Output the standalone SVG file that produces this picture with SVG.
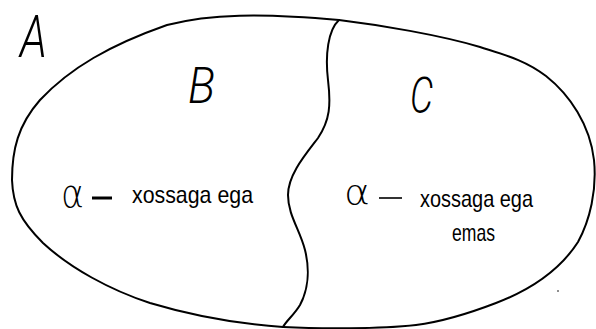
<svg xmlns="http://www.w3.org/2000/svg" width="596" height="329" viewBox="0 0 596 329">
<style>
.ln{fill:none;stroke:#000;stroke-width:2;stroke-linecap:round;stroke-linejoin:round}
.hand{font-family:Roboto,"Liberation Sans",sans-serif;font-weight:300;font-style:italic;fill:#000}
.lbl{font-family:"Liberation Sans",Arial,sans-serif;font-size:24px;fill:#000}
.al{font-family:"DejaVu Sans","Noto Sans",sans-serif;font-weight:200;fill:#000}
.dash{stroke:#000;stroke-linecap:butt}
</style>
<rect width="596" height="329" fill="#fff"/>
<g id="set-A">
<path class="ln" d="M339,20 C380,25 440,35 480,47 C505,55 525,60 546,76 C570,95 590,125 594,160 C597,190 590,220 578,242 C560,270 530,290 496,303 C470,313 440,322 416,325 C380,329 320,329 283,327 C240,324 190,315 150,303 C110,290 70,268 43,243 C20,220 13,205 12,180 C12,150 18,125 40,100 C70,68 110,45 167,25 C210,14 260,13 339,20 Z"/>
<text class="hand" x="20" y="57" font-size="59" textLength="27" lengthAdjust="spacingAndGlyphs">A</text>
</g>
<g id="divider">
<path class="ln" d="M339,20 C328,30 325,55 328,80 C331,105 330,120 318,138 C305,155 288,175 288,195 C288,215 300,230 305,250 C310,270 308,290 300,305 C294,315 287,320 283,327"/>
</g>
<g id="set-B">
<text class="hand" x="188" y="103" font-size="49" textLength="27" lengthAdjust="spacingAndGlyphs">B</text>
<text class="al" x="61" y="207" font-size="38" textLength="23" lengthAdjust="spacingAndGlyphs">α</text>
<line class="dash" x1="92" y1="198" x2="112" y2="198" stroke-width="3"/>
<text class="lbl" x="132" y="203" textLength="121" lengthAdjust="spacingAndGlyphs">xossaga ega</text>
</g>
<g id="set-C">
<text class="hand" x="410" y="113" font-size="49" textLength="23" lengthAdjust="spacingAndGlyphs">C</text>
<text class="al" x="344" y="205" font-size="36" textLength="26" lengthAdjust="spacingAndGlyphs">α</text>
<line class="dash" x1="379" y1="198" x2="402" y2="198" stroke-width="1.6"/>
<text class="lbl" x="420" y="207" textLength="113" lengthAdjust="spacingAndGlyphs">xossaga ega</text>
<text class="lbl" x="452" y="241" textLength="43" lengthAdjust="spacingAndGlyphs">emas</text>
</g>
<circle cx="558" cy="291" r="0.8" fill="#000"/>
</svg>
